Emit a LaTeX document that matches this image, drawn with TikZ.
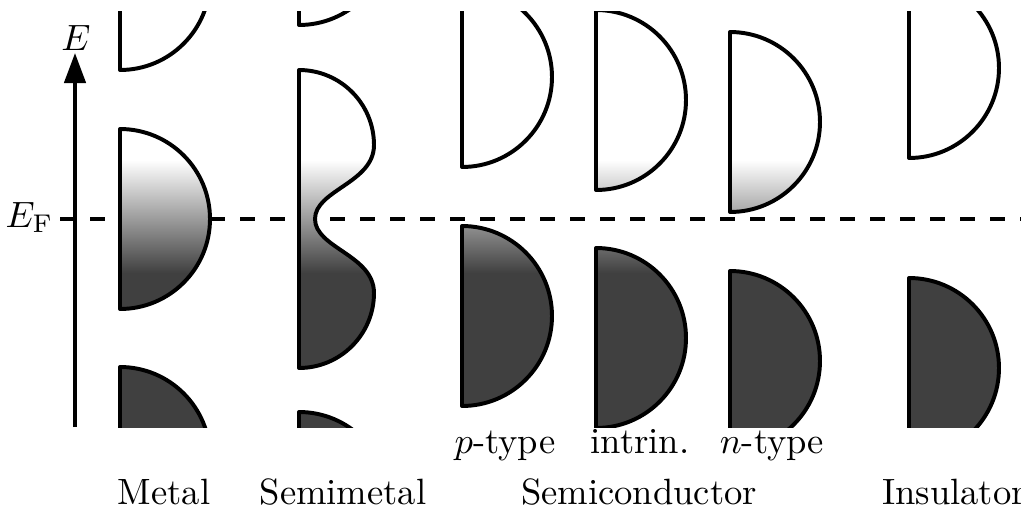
\documentclass[tikz,border=0pt]{standalone}
\usetikzlibrary{arrows.meta}
\definecolor{bandgray}{RGB}{64,64,64}
\tikzset{
  bandline/.style={draw=black, line width=1.08pt, line join=round},
  dashline/.style={draw=black, line width=1.05pt, dash pattern=on 4.1pt off 4.1pt},
  axisline/.style={draw=black, line width=1.05pt, -{Triangle[length=8.2pt,width=5.8pt]}},
  lbl/.style={inner sep=0pt, font=\normalsize},
}
\newcommand\bandshape[2]{(#1,{#2-90}) .. controls ({#1+49.7},{#2-90}) and ({#1+90},{#2-49.7}) .. ({#1+90},#2) .. controls ({#1+90},{#2+49.7}) and ({#1+49.7},{#2+90}) .. (#1,{#2+90}) -- cycle}
\newcommand\semimetalshape{(299,70) .. controls (340.4,70) and (374,103.6) .. (374,145) .. controls (374,183) and (315,190) .. (315,219) .. controls (315,248) and (374,255) .. (374,293) .. controls (374,334.4) and (340.4,368) .. (299,368) -- cycle}
\newcommand\fillband[1]{%
  \begin{scope}
    \clip #1;
    \fill[white] (0,0) rectangle (1021,160);
    \shade[top color=white, bottom color=bandgray] (0,160) rectangle (1021,273);
    \fill[bandgray] (0,273) rectangle (1021,520);
  \end{scope}
  \draw[bandline] #1;
}
\begin{document}
\begin{tikzpicture}[x=0.2733pt, y=-0.2733pt]
\useasboundingbox (0,0) rectangle (1021,508);
% Fermi level
\coordinate (efstart) at (60,219);
\coordinate (efend) at (1021,219);
\draw[dashline] (efstart) -- (efend);
% bands
\begin{scope}
  \clip (0,11) rectangle (1021,427);
  % metal
  \fillband{\bandshape{120}{-20}}
  \fillband{\bandshape{120}{219}}
  \fillband{\bandshape{120}{457}}
  % semimetal
  \fillband{\bandshape{299}{-65}}
  \fillband{\semimetalshape}
  \fillband{\bandshape{299}{502}}
  % semiconductors
  \fillband{\bandshape{462}{77}}
  \fillband{\bandshape{462}{316}}
  \fillband{\bandshape{596}{100}}
  \fillband{\bandshape{596}{338}}
  \fillband{\bandshape{730}{122}}
  \fillband{\bandshape{730}{361}}
  % insulator
  \fillband{\bandshape{909}{68}}
  \fillband{\bandshape{909}{368}}
\end{scope}
% energy axis
\coordinate (axbot) at (75,427);
\coordinate (axtop) at (75,53);
\draw[axisline] (axbot) -- (axtop);
\node[lbl, anchor=base] (Elbl) at (76,50) {$E$};
\node[lbl, anchor=base east] (EFlbl) at (54,227) {$E_{\mathrm{F}}$};
% labels
\node[lbl, anchor=base] (ptype) at (505,453) {$p$-type};
\node[lbl, anchor=base] (intrin) at (640,453) {intrin.};
\node[lbl, anchor=base] (ntype) at (772,453) {$n$-type};
\node[lbl, anchor=base] (metal) at (164,504) {Metal};
\node[lbl, anchor=base] (semimetal) at (343,504) {Semimetal};
\node[lbl, anchor=base] (semicond) at (639,504) {Semiconductor};
\node[lbl, anchor=base] (insul) at (954,504) {Insulator};
\end{tikzpicture}
\end{document}
